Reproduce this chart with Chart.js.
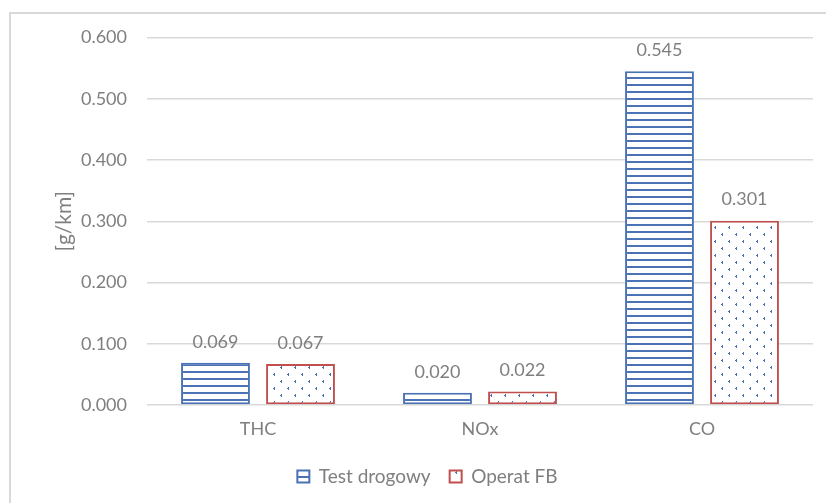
<!DOCTYPE html>
<html>
<head>
<meta charset="utf-8">
<script src="https://cdn.jsdelivr.net/npm/chart.js@4/dist/chart.umd.min.js"></script>
<style>
  html, body { margin: 0; padding: 0; background: #fff; overflow: hidden; }
  #frame {
    position: absolute; left: 9px; top: 12px; width: 900px; height: 600px;
    border-left: 2px solid #d9d9d9; border-top: 2px solid #d9d9d9;
  }
  #wrap { position: absolute; left: 0; top: 0; width: 836px; height: 489px; }
</style>
</head>
<body>
<div id="frame"><div id="wrap"><canvas id="c"></canvas></div></div>
<script>
// Emission results per pollutant
const categories = ['THC', 'NOx', 'CO'];
const seriesNames = ['Test drogowy', 'Operat FB'];
const testDrogowy = [0.069, 0.020, 0.545];
const operatFB = [0.067, 0.022, 0.301];
const yTicks = [0, 0.1, 0.2, 0.3, 0.4, 0.5, 0.6];

const BLUE = '#4a72b4';
const RED = '#c0504d';
const TEXT = '#7f7f7f';
const FONT = 'Lato, "Open Sans", sans-serif';

// Horizontal stripe fill
function stripePattern() {
  const c = document.createElement('canvas');
  c.width = 8; c.height = 7;
  const g = c.getContext('2d');
  g.fillStyle = '#fff'; g.fillRect(0, 0, 8, 7);
  g.fillStyle = BLUE; g.fillRect(0, 0, 8, 2);
  return g.createPattern(c, 'repeat');
}
// Sparse dotted fill with small chevron marks
function dotPattern() {
  const c = document.createElement('canvas');
  c.width = 14; c.height = 14;
  const g = c.getContext('2d');
  g.fillStyle = '#fff'; g.fillRect(0, 0, 14, 14);
  g.fillStyle = BLUE;
  const mark = (x, y) => {
    g.fillRect(x + 1, y, 1, 1);
    g.fillRect(x, y + 1, 2, 1);
    g.fillRect(x + 1, y + 2, 1, 1);
  };
  mark(3, 2);
  mark(10, 9);
  return g.createPattern(c, 'repeat');
}

// Value labels above each bar
const valueLabels = {
  id: 'valueLabels',
  afterDatasetsDraw(chart) {
    const ctx = chart.ctx;
    ctx.save();
    ctx.font = '18px ' + FONT;
    ctx.fillStyle = TEXT;
    ctx.textAlign = 'center';
    ctx.textBaseline = 'bottom';
    chart.data.datasets.forEach((ds, i) => {
      chart.getDatasetMeta(i).data.forEach((el, j) => {
        ctx.fillText(ds.data[j].toFixed(3), el.x, el.y - 12);
      });
    });
    ctx.restore();
  }
};

new Chart(document.getElementById('c'), {
  type: 'bar',
  data: {
    labels: categories,
    datasets: [
      {
        label: seriesNames[0], data: testDrogowy,
        backgroundColor: stripePattern(), borderColor: BLUE, borderWidth: 2,
        borderSkipped: false
      },
      {
        label: seriesNames[1], data: operatFB,
        backgroundColor: dotPattern(), borderColor: RED, borderWidth: 2,
        borderSkipped: false
      }
    ]
  },
  options: {
    responsive: true,
    maintainAspectRatio: false,
    animation: false,
    categoryPercentage: 0.766,
    barPercentage: 0.81,
    layout: { padding: { top: 23.5, right: 34, bottom: 7, left: 31 } },
    plugins: {
      legend: {
        position: 'bottom',
        labels: {
          color: TEXT, font: { family: FONT, size: 19 },
          boxWidth: 12, boxHeight: 12, padding: 19
        }
      },
      tooltip: { enabled: false }
    },
    scales: {
      x: {
        grid: { display: false },
        border: { display: false },
        ticks: { color: TEXT, font: { family: FONT, size: 18 }, padding: 5 },
        afterFit(s) { s.height = 43; }
      },
      y: {
        min: 0, max: 0.6,
        afterBuildTicks(s) { s.ticks = yTicks.map(v => ({ value: v })); },
        grid: { color: '#d9d9d9', lineWidth: 1.5, drawTicks: false },
        border: { display: false },
        ticks: {
          color: TEXT, font: { family: FONT, size: 18 }, padding: 20,
          callback: v => Number(v).toFixed(3)
        },
        title: {
          display: true, text: '[g/km]', color: TEXT,
          font: { family: FONT, size: 21 }, padding: { top: 10, bottom: 0 }
        },
        afterFit(s) { s.width = 105; s.paddingTop = 0; s.paddingBottom = 0; }
      }
    }
  },
  plugins: [valueLabels]
});
</script>
</body>
</html>
